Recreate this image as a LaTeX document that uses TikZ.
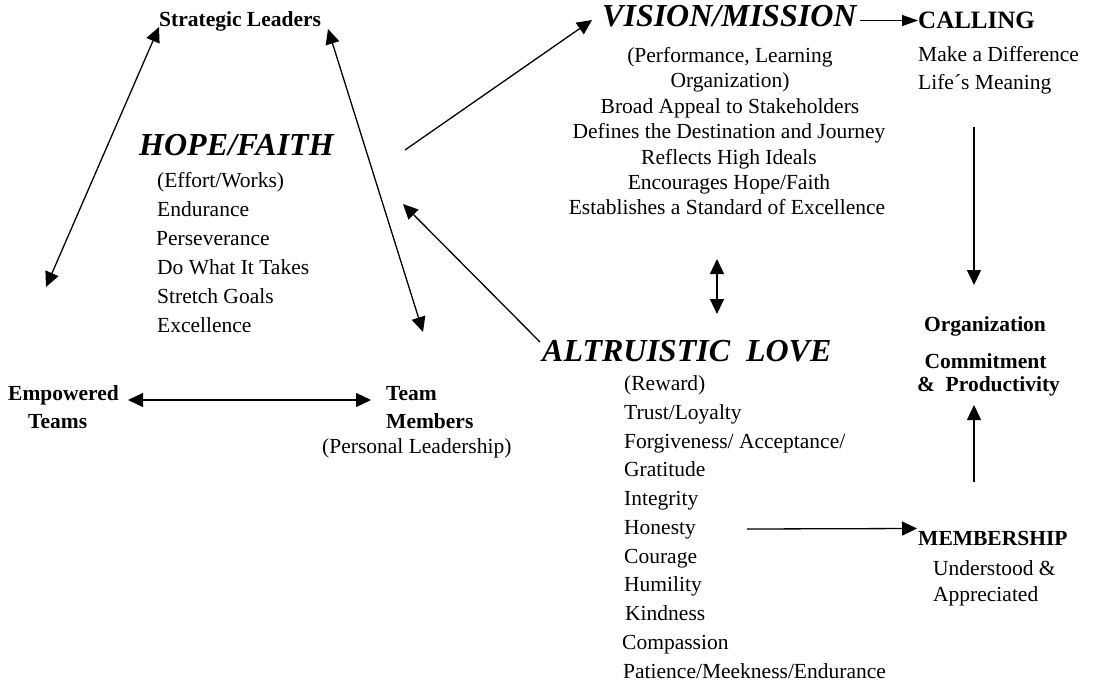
\documentclass[tikz,border=0pt]{standalone}
\usepackage{fontspec}
\setmainfont{Liberation Serif}
\usetikzlibrary{arrows.meta}
\tikzset{
  txt/.style={font=\fontsize{21.5}{26}\selectfont, inner sep=0pt, anchor=base west},
  vtxt/.style={font=\fontsize{21.5}{26}\selectfont, inner sep=0pt, anchor=base},
  lbl/.style={font=\fontsize{21.5}{26}\selectfont\bfseries, inner sep=0pt, anchor=base west},
  clbl/.style={font=\fontsize{21.5}{26}\selectfont\bfseries, inner sep=0pt, anchor=base},
  head/.style={font=\fontsize{32}{36}\selectfont\bfseries\itshape, inner sep=0pt, anchor=base west},
  conn/.style={line width=1.3pt},
  arr/.style={conn, -{Triangle[length=15pt,width=14pt]}},
  darr/.style={conn, {Triangle[length=15pt,width=14pt]}-{Triangle[length=15pt,width=14pt]}},
  sarr/.style={conn, -{Triangle[length=16pt,width=11pt]}},
}
\begin{document}
\begin{tikzpicture}[x=1pt,y=-1pt]
\useasboundingbox (0,0) rectangle (1094,696);

% ---- Strategic leaders
\node[lbl] (sl) at (159,26) {Strategic Leaders};

% ---- Hope / Faith
\node[head] (hf) at (139,155) {HOPE/FAITH};
\node[txt] (hf1) at (157,187) {(Effort/Works)};
\node[txt] (hf2) at (157,216) {Endurance};
\node[txt] (hf3) at (156,245) {Perseverance};
\node[txt] (hf4) at (157,274) {Do What It Takes};
\node[txt] (hf5) at (157,303) {Stretch Goals};
\node[txt] (hf6) at (157,332) {Excellence};

% ---- Vision / Mission
\node[head] (vm) at (602,27) {VISION/MISSION};
\node[vtxt] (vm1) at (730,62.5) {(Performance, Learning};
\node[vtxt] (vm2) at (730,87.9) {Organization)};
\node[vtxt] (vm3) at (730,113.3) {Broad Appeal to Stakeholders};
\node[vtxt] (vm4) at (729,138.7) {Defines the Destination and Journey};
\node[vtxt] (vm5) at (729,164.1) {Reflects High Ideals};
\node[vtxt] (vm6) at (729,189.5) {Encourages Hope/Faith};
\node[vtxt] (vm7) at (727,214.9) {Establishes a Standard of Excellence};

% ---- Calling
\node[lbl, font=\fontsize{25}{30}\selectfont\bfseries] (cal) at (918,28.5) {CALLING};
\node[txt] (cal1) at (918,61.5) {Make a Difference};
\node[txt] (cal2) at (918,89.5) {Life´s Meaning};

% ---- Organization commitment
\node[clbl] (oc1) at (985,331.5) {Organization};
\node[clbl] (oc2) at (985.5,368) {Commitment};
\node[clbl] (oc3) at (988.5,391) {\&~~Productivity};

% ---- Altruistic love
\node[head] (al) at (542,361.5) {ALTRUISTIC~~LOVE};
\node[txt] (al1) at (624,390.5) {(Reward)};
\node[txt] (al2) at (624,419.25) {Trust/Loyalty};
\node[txt] (al3) at (624,448) {Forgiveness/ Acceptance/};
\node[txt] (al4) at (624,476.75) {Gratitude};
\node[txt] (al5) at (624,505.5) {Integrity};
\node[txt] (al6) at (624,534.25) {Honesty};
\node[txt] (al7) at (624,563) {Courage};
\node[txt] (al8) at (624,591.75) {Humility};
\node[txt] (al9) at (625,620.5) {Kindness};
\node[txt] (al10) at (622,649.25) {Compassion};
\node[txt] (al11) at (623,678) {Patience/Meekness/Endurance};

% ---- Membership
\node[lbl] (mem) at (918,545) {MEMBERSHIP};
\node[txt] (mem1) at (933,575) {Understood \&};
\node[txt] (mem2) at (933,601) {Appreciated};

% ---- Teams
\node[lbl] (et1) at (8,400) {Empowered};
\node[lbl] (et2) at (28,428) {Teams};
\node[lbl] (tm1) at (386,400) {Team};
\node[lbl] (tm2) at (386,428) {Members};
\node[txt] (tm3) at (322,453) {(Personal Leadership)};

% ---- connector end points
\coordinate (slL) at (159,27);
\coordinate (etT) at (46,287);
\coordinate (slR) at (328,29);
\coordinate (tmT) at (423,332);
\coordinate (hfR) at (405,150);
\coordinate (vmL) at (592,20);
\coordinate (vmR) at (860,20.5);
\coordinate (calL) at (918,20.5);
\coordinate (vmB) at (717,259);
\coordinate (alT) at (717,314);
\coordinate (alL) at (540,342);
\coordinate (hfB) at (403,204);
\coordinate (calB) at (974,127);
\coordinate (ocT) at (974,285);
\coordinate (memT) at (974,482);
\coordinate (ocB) at (974,405);
\coordinate (etR) at (128,400);
\coordinate (tmL) at (371,400);
\coordinate (alR) at (747,529);
\coordinate (memL) at (917,528.5);

% ---- connectors
\draw[darr] (slL) -- (etT);
\draw[darr] (slR) -- (tmT);
\draw[arr] (hfR) -- (vmL);
\draw[sarr] (vmR) -- (calL);
\draw[darr] (vmB) -- (alT);
\draw[arr] (alL) -- (hfB);
\draw[arr] (calB) -- (ocT);
\draw[arr] (memT) -- (ocB);
\draw[darr] (etR) -- (tmL);
\draw[arr] (alR) -- (memL);
\end{tikzpicture}
\end{document}
